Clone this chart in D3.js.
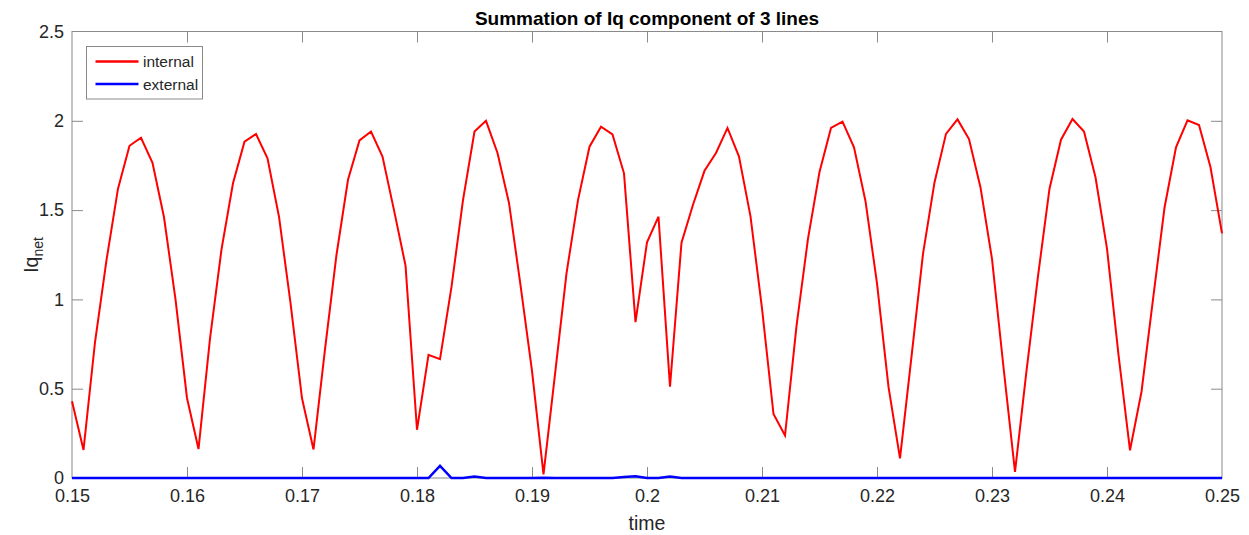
<!DOCTYPE html>
<html><head><meta charset="utf-8">
<script src="https://cdn.jsdelivr.net/npm/d3@7"></script>
<style>
html,body{margin:0;padding:0;background:#fff;}
svg{display:block;font-family:Arial,"Liberation Sans",Helvetica,sans-serif;}
</style></head>
<body><svg id="c" width="1249" height="535"></svg>
<script>
const time = [0.150,0.151,0.152,0.153,0.154,0.155,0.156,0.157,0.158,0.159,
0.160,0.161,0.162,0.163,0.164,0.165,0.166,0.167,0.168,0.169,
0.170,0.171,0.172,0.173,0.174,0.175,0.176,0.177,0.178,0.179,
0.180,0.181,0.182,0.183,0.184,0.185,0.186,0.187,0.188,0.189,
0.190,0.191,0.192,0.193,0.194,0.195,0.196,0.197,0.198,0.199,
0.200,0.201,0.202,0.203,0.204,0.205,0.206,0.207,0.208,0.209,
0.210,0.211,0.212,0.213,0.214,0.215,0.216,0.217,0.218,0.219,
0.220,0.221,0.222,0.223,0.224,0.225,0.226,0.227,0.228,0.229,
0.230,0.231,0.232,0.233,0.234,0.235,0.236,0.237,0.238,0.239,
0.240,0.241,0.242,0.243,0.244,0.245,0.246,0.247,0.248,0.249,0.250];

const internal = [0.43,0.157,0.76,1.22,1.62,1.86,1.905,1.765,1.46,1.0,
0.448,0.162,0.78,1.28,1.65,1.883,1.926,1.79,1.463,0.98,
0.446,0.16,0.72,1.25,1.67,1.89,1.94,1.80,1.50,1.19,
0.27,0.69,0.665,1.07,1.556,1.94,2.0,1.82,1.54,1.08,
0.6,0.02,0.58,1.146,1.556,1.855,1.967,1.924,1.706,0.873,
1.32,1.463,0.511,1.318,1.53,1.72,1.82,1.96,1.80,1.465,
0.95,0.358,0.238,0.85,1.34,1.713,1.96,1.995,1.852,1.55,
1.09,0.51,0.11,0.68,1.255,1.655,1.927,2.008,1.898,1.627,
1.227,0.62,0.034,0.6,1.13,1.62,1.894,2.01,1.94,1.684,
1.284,0.69,0.155,0.483,1.0,1.513,1.852,2.003,1.976,1.74,1.37];

const external = [0,0,0,0,0,0,0,0,0,0,
0,0,0,0,0,0,0,0,0,0,
0,0,0,0,0,0,0,0,0,0,
0,0,0.068,0,0,0.008,0,0,0,0,
0,0.002,0,0,0,0,0,0,0.005,0.01,
0,0,0.008,0,0,0,0,0,0,0,
0,0,0,0,0,0,0,0,0,0,
0,0,0,0,0,0,0,0,0,0,
0,0,0,0,0,0,0,0,0,0,
0,0,0,0,0,0,0,0,0,0,0];

const xTicks = [0.15,0.16,0.17,0.18,0.19,0.2,0.21,0.22,0.23,0.24,0.25];
const xTickLabels = ["0.15","0.16","0.17","0.18","0.19","0.2","0.21","0.22","0.23","0.24","0.25"];
const yTicks = [0,0.5,1,1.5,2,2.5];
const yTickLabels = ["0","0.5","1","1.5","2","2.5"];
const seriesNames = ["internal","external"];
const seriesColors = ["#ff0000","#0000ff"];
const titleText = "Summation of Iq component of 3 lines";

const L = 72, R = 1222, T = 31.5, B = 478;
const svg = d3.select("#c");
const x = d3.scaleLinear().domain([0.15,0.25]).range([L,R]);
const y = d3.scaleLinear().domain([0,2.5]).range([B,T]);
const axisCol = "#8a8a8a", textCol = "#262626", tickLen = 11;

// box
svg.append("rect").attr("x",L).attr("y",T).attr("width",R-L).attr("height",B-T)
  .attr("fill","none").attr("stroke",axisCol).attr("stroke-width",1);

// axes via d3
const gx = svg.append("g").attr("transform",`translate(0,${B})`)
  .call(d3.axisBottom(x).tickValues(xTicks).tickFormat((d,i)=>xTickLabels[i]).tickSizeInner(-tickLen).tickSizeOuter(0).tickPadding(11.5));
const gxt = svg.append("g").attr("transform",`translate(0,${T})`)
  .call(d3.axisTop(x).tickValues(xTicks).tickFormat("").tickSizeInner(-tickLen).tickSizeOuter(0));
const gy = svg.append("g").attr("transform",`translate(${L},0)`)
  .call(d3.axisLeft(y).tickValues(yTicks).tickFormat((d,i)=>yTickLabels[i]).tickSizeInner(-tickLen).tickSizeOuter(0).tickPadding(8));
const gyr = svg.append("g").attr("transform",`translate(${R},0)`)
  .call(d3.axisRight(y).tickValues(yTicks).tickFormat("").tickSizeInner(-tickLen).tickSizeOuter(0));
[gx,gxt,gy,gyr].forEach(g=>{
  g.select(".domain").remove();
  g.selectAll(".tick line").attr("stroke",axisCol);
  g.selectAll(".tick text").attr("fill",textCol).style("font-size","18px").style("font-family","Arial, 'Liberation Sans', sans-serif");
});
gx.selectAll(".tick").filter(d=>d===0.15||d===0.25).select("line").remove();
gxt.selectAll(".tick").filter(d=>d===0.15||d===0.25).select("line").remove();
gy.selectAll(".tick").filter(d=>d===0||d===2.5).select("line").remove();
gyr.selectAll(".tick").filter(d=>d===0||d===2.5).select("line").remove();

// lines
const seriesData = [internal, external];
const line = d3.line().x((d,i)=>x(time[i])).y(d=>y(d));
const plot = svg.append("g");
seriesData.forEach((vals,k)=>{
  plot.append("path").datum(vals).attr("d",line).attr("fill","none")
    .attr("stroke",seriesColors[k]).attr("stroke-width",k===1?2.5:2).attr("stroke-linejoin","miter");
});

// title
svg.append("text").attr("x",(L+R)/2).attr("y",25).attr("text-anchor","middle")
  .attr("fill","#000").style("font-weight","bold").style("font-size","19px").text(titleText);

// x label
svg.append("text").attr("x",(L+R)/2).attr("y",530).attr("text-anchor","middle")
  .attr("fill",textCol).style("font-size","19.5px").text("time");

// y label Iq_net
const yl = svg.append("text").attr("transform","translate(38,255) rotate(-90)")
  .attr("text-anchor","middle").attr("fill",textCol).style("font-size","19.5px");
yl.append("tspan").text("Iq");
yl.append("tspan").attr("dy",5).style("font-size","14px").text("net");

// legend
const lg = svg.append("g");
lg.append("rect").attr("x",86.5).attr("y",46.5).attr("width",116).attr("height",52.5)
  .attr("fill","#fff").attr("stroke",axisCol).attr("stroke-width",1);
const legY = [61.5, 84];
seriesNames.forEach((n,k)=>{
  lg.append("line").attr("x1",95.5).attr("x2",138.5).attr("y1",legY[k]).attr("y2",legY[k])
    .attr("stroke",seriesColors[k]).attr("stroke-width",2.5);
  lg.append("text").attr("x",143).attr("y",legY[k]+5.5).attr("fill",textCol)
    .style("font-size","15.5px").text(n);
});
</script></body></html>
